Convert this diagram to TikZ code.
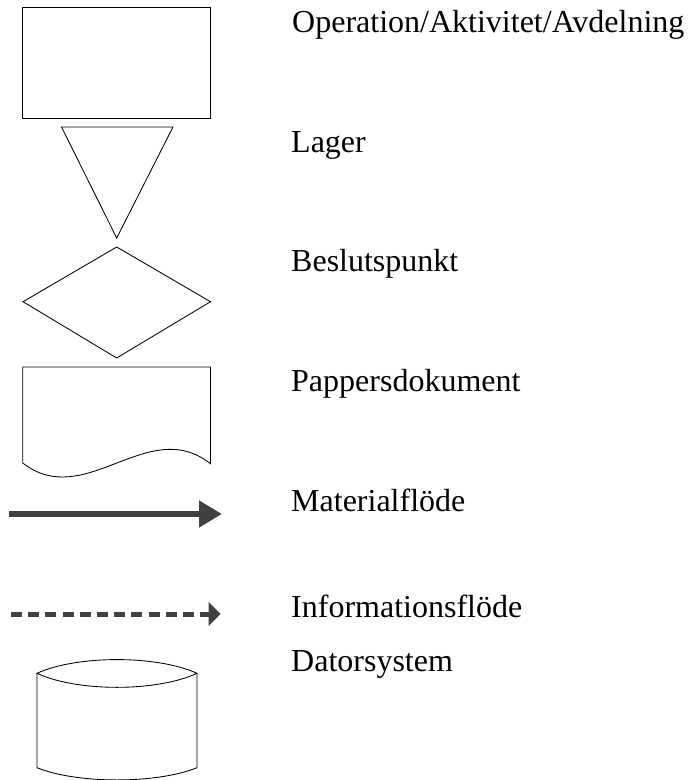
\documentclass[tikz,border=0pt]{standalone}
\usepackage{fontspec}
\setmainfont{Liberation Serif}
\usetikzlibrary{arrows.meta}
\definecolor{flowgray}{HTML}{404040}
\begin{document}
\begin{tikzpicture}[x=1pt,y=-1pt,
  symbol/.style={draw=black,line width=0.85pt,line join=miter},
  label/.style={anchor=base west,inner sep=0pt,font=\fontsize{32}{38}\selectfont},
  matflow/.style={draw=flowgray,line width=5.7pt,-{Triangle[length=23pt,width=25.6pt]}},
  infoflow/.style={draw=flowgray,line width=5pt,dash pattern=on 11pt off 6.2pt,-{Triangle[length=12pt,width=23pt]}}]
\useasboundingbox (0,0) rectangle (692,780);

% operation / activity box
\draw[symbol] (22.5,7) rectangle (210.5,118);
% storage triangle
\draw[symbol] (61.5,127) -- (173,127) -- (116.7,238) -- cycle;
% decision diamond
\draw[symbol] (116.7,247) -- (210.5,301.7) -- (116.7,358) -- (23,301.7) -- cycle;
% paper document with wavy bottom
\draw[symbol] (22.7,463) -- (22.7,367) -- (210.5,367) -- (210.5,463.7)
  .. controls (147.9,414.5) and (85.3,511.5) .. (22.7,463);
% flow arrows
\coordinate (m1) at (9,514);
\coordinate (m2) at (222,514);
\draw[matflow] (m1) -- (m2);
\coordinate (i1) at (11,614);
\coordinate (i2) at (220.7,614);
\draw[infoflow] (i1) -- (i2);
% computer system cylinder
\draw[symbol] (37,673.3) .. controls (77,655) and (157,655) .. (197,673.3)
  .. controls (157,692) and (77,692) .. (37,673.3) -- cycle;
\draw[symbol] (37,673.3) -- (37,767.7)
  .. controls (77,784) and (157,784) .. (197,767.7) -- (197,673.3);

% legend texts
\node[label] (t1) at (292,32.5) {Operation/Aktivitet/Avdelning};
\node[label] (t2) at (291,152) {Lager};
\node[label] (t3) at (291,271.7) {Beslutspunkt};
\node[label] (t4) at (291,391.7) {Pappersdokument};
\node[label] (t5) at (291,511.7) {Materialflöde};
\node[label] (t6) at (291,617.7) {Informationsflöde};
\node[label] (t7) at (291,671.7) {Datorsystem};
\end{tikzpicture}
\end{document}
